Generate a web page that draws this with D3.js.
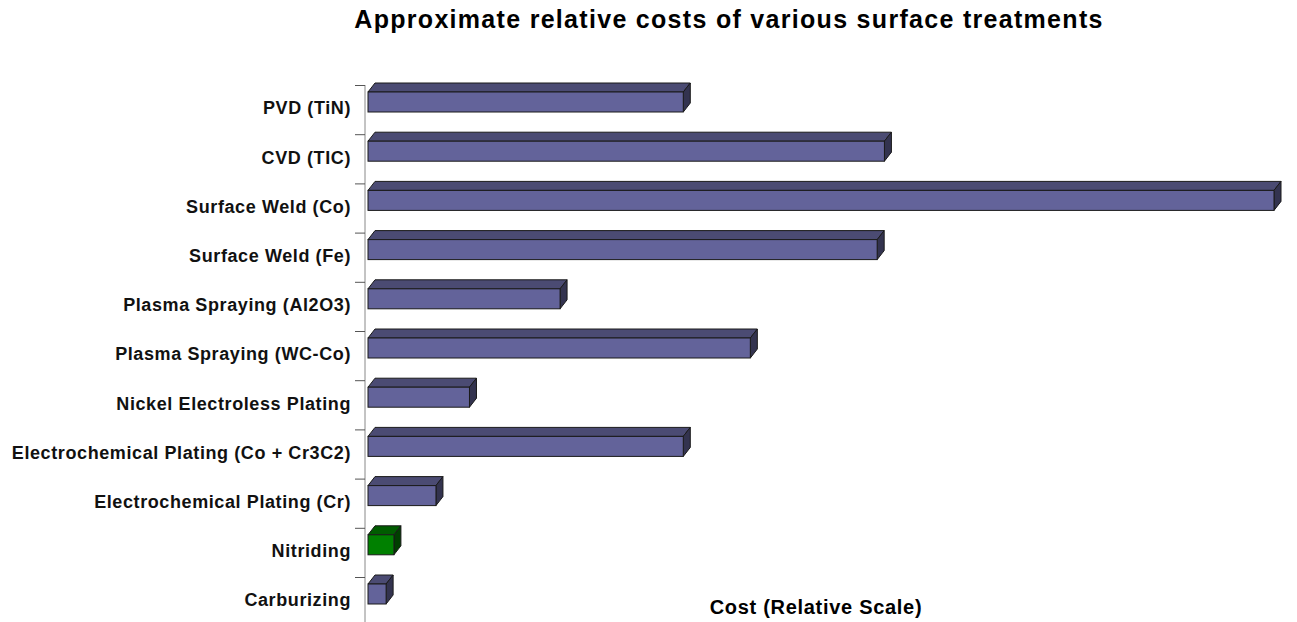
<!DOCTYPE html>
<html>
<head>
<meta charset="utf-8">
<script src="https://cdn.jsdelivr.net/npm/d3@7"></script>
<style>
  body { margin: 0; background: #fff; }
  text { font-family: "Liberation Sans", Arial, sans-serif; }
</style>
</head>
<body>
<div id="container"></div>
<script>
// Chart size
const width = 1297;
const height = 622;

// Categories, top to bottom
const categories = [
    "PVD (TiN)",
    "CVD (TIC)",
    "Surface Weld (Co)",
    "Surface Weld (Fe)",
    "Plasma Spraying (Al2O3)",
    "Plasma Spraying (WC-Co)",
    "Nickel Electroless Plating",
    "Electrochemical Plating (Co + Cr3C2)",
    "Electrochemical Plating (Cr)",
    "Nitriding",
    "Carburizing"
];

// Relative cost values
const costs = [17.4, 28.5, 50, 28.1, 10.6, 21.1, 5.6, 17.4, 3.75, 1.43, 1.0];

// Highlighted category
const highlight = ["Nitriding"];

const data = categories.map((c, i) => ({ name: c, value: costs[i] }));

const svg = d3.select("#container")
    .append("svg")
    .attr("width", width)
    .attr("height", height);

// Scales
const x = d3.scaleLinear()
    .domain([0, 50])
    .range([368, 1274]);

const y = d3.scaleBand()
    .domain(categories)
    .range([85, 85 + 49.2 * categories.length]);

const axisX = 365;
const faceTop = 7, faceH = 20; // front face offset inside band
const dx = 7, dy = 9;          // 3D depth

// Title
svg.append("text")
    .attr("x", 729)
    .attr("y", 28)
    .attr("text-anchor", "middle")
    .attr("font-size", 25)
    .attr("font-weight", "bold")
    .attr("letter-spacing", 1.3)
    .text("Approximate relative costs of various surface treatments");

// Vertical axis line
svg.append("line")
    .attr("x1", axisX).attr("x2", axisX)
    .attr("y1", y.range()[0]).attr("y2", y.range()[1])
    .attr("stroke", "#888")
    .attr("stroke-width", 1);

// Tick marks at category boundaries
svg.append("g")
    .selectAll("line")
    .data(categories)
    .enter()
    .append("line")
    .attr("x1", axisX - 10).attr("x2", axisX)
    .attr("y1", d => y(d) + 0.5).attr("y2", d => y(d) + 0.5)
    .attr("stroke", "#555");

// Category labels
svg.append("g")
    .selectAll("text")
    .data(categories)
    .enter()
    .append("text")
    .attr("x", 351)
    .attr("y", d => y(d) + 23)
    .attr("dy", "0.36em")
    .attr("text-anchor", "end")
    .attr("font-size", 18)
    .attr("font-weight", "bold")
    .attr("letter-spacing", 0.6)
    .attr("fill", "#111")
    .text(d => d);

// 3D bars
const bars = svg.append("g")
    .selectAll("g")
    .data(data)
    .enter()
    .append("g");

const isHi = d => highlight.includes(d.name);

// top face
bars.append("path")
    .attr("d", d => {
        const x0 = x(0), x1 = x(d.value), y0 = y(d.name) + faceTop;
        return `M${x0},${y0} L${x0 + dx},${y0 - dy} L${x1 + dx},${y0 - dy} L${x1},${y0} Z`;
    })
    .attr("fill", d => isHi(d) ? "#005c00" : "#4b4b73")
    .attr("stroke", "#1a1a1a")
    .attr("stroke-width", 1)
    .attr("stroke-linejoin", "round");

// side face
bars.append("path")
    .attr("d", d => {
        const x1 = x(d.value), y0 = y(d.name) + faceTop;
        return `M${x1},${y0} L${x1 + dx},${y0 - dy} L${x1 + dx},${y0 + faceH - dy} L${x1},${y0 + faceH} Z`;
    })
    .attr("fill", d => isHi(d) ? "#003f00" : "#33334f")
    .attr("stroke", "#1a1a1a")
    .attr("stroke-width", 1)
    .attr("stroke-linejoin", "round");

// front face
bars.append("rect")
    .attr("x", x(0))
    .attr("y", d => y(d.name) + faceTop)
    .attr("width", d => x(d.value) - x(0))
    .attr("height", faceH)
    .attr("fill", d => isHi(d) ? "#008000" : "#63639a")
    .attr("stroke", "#1a1a1a")
    .attr("stroke-width", 1);

// Axis title
svg.append("text")
    .attr("x", 816)
    .attr("y", 614)
    .attr("text-anchor", "middle")
    .attr("font-size", 20)
    .attr("font-weight", "bold")
    .attr("letter-spacing", 0.7)
    .text("Cost (Relative Scale)");
</script>
</body>
</html>
